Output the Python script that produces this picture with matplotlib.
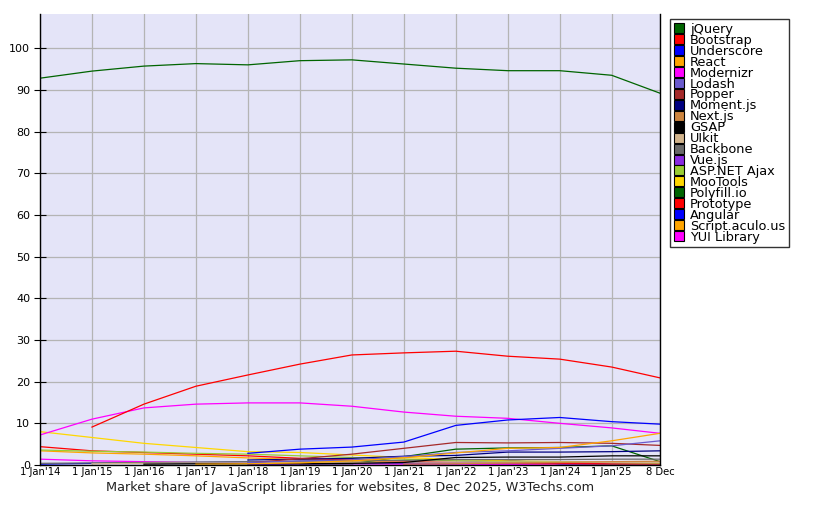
import numpy as np
import matplotlib
matplotlib.use("Agg")
import matplotlib.pyplot as plt

nan = np.nan

# x positions in years since 1 Jan 2014 (last point is 8 Dec 2025)
x_pos = [0, 1, 2, 3, 4, 5, 6, 7, 8, 9, 10, 11, 11.93]
x_labels = ["1 Jan'14", "1 Jan'15", "1 Jan'16", "1 Jan'17", "1 Jan'18", "1 Jan'19",
            "1 Jan'20", "1 Jan'21", "1 Jan'22", "1 Jan'23", "1 Jan'24", "1 Jan'25", "8 Dec"]

names = ["jQuery", "Bootstrap", "Underscore", "React", "Modernizr", "Lodash", "Popper",
         "Moment.js", "Next.js", "GSAP", "UIkit", "Backbone", "Vue.js", "ASP.NET Ajax",
         "MooTools", "Polyfill.io", "Prototype", "Angular", "Script.aculo.us", "YUI Library"]

colors = ["#006400", "#ff0000", "#0000ff", "#ffa500", "#ff00ff", "#6a5acd", "#a52a2a",
          "#000080", "#cd853f", "#000000", "#d2b48c", "#696969", "#8a2be2", "#9acd32",
          "#ffd700", "#006400", "#ff0000", "#0000ff", "#ffa500", "#ff00ff"]

jquery      = [92.8, 94.5, 95.7, 96.3, 96.0, 97.0, 97.2, 96.2, 95.2, 94.6, 94.6, 93.5, 89.2]
bootstrap   = [nan, 9.1, 14.6, 18.9, 21.6, 24.2, 26.4, 26.9, 27.3, 26.1, 25.4, 23.5, 20.9]
underscore  = [nan, nan, nan, nan, 2.8, 3.8, 4.3, 5.5, 9.5, 10.8, 11.4, 10.4, 9.8]
react       = [nan, nan, nan, 0.2, 0.3, 0.5, 1.0, 1.7, 2.9, 4.0, 4.2, 5.8, 7.6]
modernizr   = [7.2, 11.0, 13.7, 14.6, 14.9, 14.9, 14.1, 12.7, 11.7, 11.2, 10.0, 8.9, 7.6]
lodash      = [nan, nan, nan, nan, 0.6, 1.0, 1.2, 2.0, 3.0, 3.4, 4.0, 4.6, 5.8]
popper      = [nan, nan, nan, nan, 0.5, 1.5, 2.6, 4.0, 5.4, 5.3, 5.4, 5.2, 4.7]
moment      = [nan, nan, nan, nan, 1.2, 1.4, 1.6, 2.1, 2.3, 3.1, 3.1, 3.2, 3.4]
nextjs      = [nan, nan, nan, nan, nan, nan, nan, 0.2, 0.3, 0.5, 0.6, 0.8, 0.9]
gsap        = [nan, nan, 0.2, 0.3, 0.3, 0.3, 0.4, 0.6, 1.8, 1.9, 1.9, 2.2, 2.2]
uikit       = [nan, 0.3, 0.4, 0.5, 0.5, 0.6, 0.6, 0.7, 0.7, 0.7, 0.7, 0.6, 0.6]
backbone    = [0.4, 0.5, 0.6, 0.7, 0.8, 0.9, 1.0, 1.1, 1.3, 1.3, 1.3, 1.4, 1.4]
vue         = [nan, nan, nan, nan, 0.1, 0.2, 0.3, 0.4, 0.5, 0.5, 0.6, 0.6, 0.6]
aspnet      = [3.6, 3.3, 3.1, 2.8, 2.6, 2.2, 1.8, 1.4, 1.0, 0.8, 0.7, 0.6, 0.5]
mootools    = [8.0, 6.6, 5.2, 4.2, 3.2, 3.0, 2.4, 1.8, 1.3, 1.0, 0.8, 0.6, 0.5]
polyfill    = [nan, nan, nan, nan, nan, 0.2, 0.3, 2.0, 3.8, 4.1, 4.2, 4.6, 0.8]
prototype   = [4.4, 3.4, 3.0, 2.6, 2.2, 1.6, 1.2, 0.9, 0.6, 0.5, 0.4, 0.3, 0.3]
angular     = [0.2, 0.4, 0.5, 0.6, 0.7, 0.5, 0.5, 0.5, 0.6, 1.1, 0.3, 0.3, 0.3]
scriptaculo = [3.4, 2.9, 2.6, 2.2, 1.7, 1.3, 1.0, 0.7, 0.5, 0.4, 0.3, 0.2, 0.2]
yui         = [1.4, 1.0, 0.8, 0.6, 0.5, 0.4, 0.3, 0.2, 0.2, 0.1, 0.1, 0.1, 0.1]

series = [jquery, bootstrap, underscore, react, modernizr, lodash, popper, moment, nextjs,
          gsap, uikit, backbone, vue, aspnet, mootools, polyfill, prototype, angular,
          scriptaculo, yui]

fig = plt.figure(figsize=(8.29, 5.09), dpi=100)
ax = fig.add_axes([40 / 829, 1 - 465 / 509, 620 / 829, 451 / 509])
ax.set_facecolor("#e4e4f8")

# draw in reverse so jQuery etc. end up on top
for name, col, vals in reversed(list(zip(names, colors, series))):
    ax.plot(x_pos, vals, color=col, lw=0.9, label=name)

ax.set_xlim(0, 11.93)
ax.set_ylim(0, 108.2)
ax.set_yticks(range(0, 101, 10))
ax.set_xticks(x_pos)
ax.set_xticklabels(x_labels)
ax.grid(True, color="#b4b4b4", lw=0.9)
ax.set_axisbelow(True)
ax.spines["top"].set_visible(False)
for s in ["left", "right", "bottom"]:
    ax.spines[s].set_color("black")
    ax.spines[s].set_linewidth(1.0)
ax.tick_params(axis="y", direction="inout", length=8, labelsize=8, pad=3)
ax.tick_params(axis="x", length=0, labelsize=7.2, pad=1.5)

# legend in original order, square colour swatches
proxies = [plt.Line2D([], [], marker="s", ls="none", markersize=7.5,
                      markerfacecolor=c, markeredgecolor="black", markeredgewidth=0.8)
           for c in colors]
leg = fig.legend(proxies, names, loc="upper left", bbox_to_anchor=(670 / 829, 1 - 19 / 509),
                 fontsize=9.3, labelspacing=-0.16, handlelength=0.8, handletextpad=0.45,
                 borderpad=0.3, borderaxespad=0, frameon=True, fancybox=False)
leg.get_frame().set_edgecolor("black")
leg.get_frame().set_linewidth(1.0)

fig.text(350 / 829, 1 - 488 / 509,
         "Market share of JavaScript libraries for websites, 8 Dec 2025, W3Techs.com",
         ha="center", va="center", fontsize=9.3, color="#222222")

fig.savefig("out.png", dpi=100)
